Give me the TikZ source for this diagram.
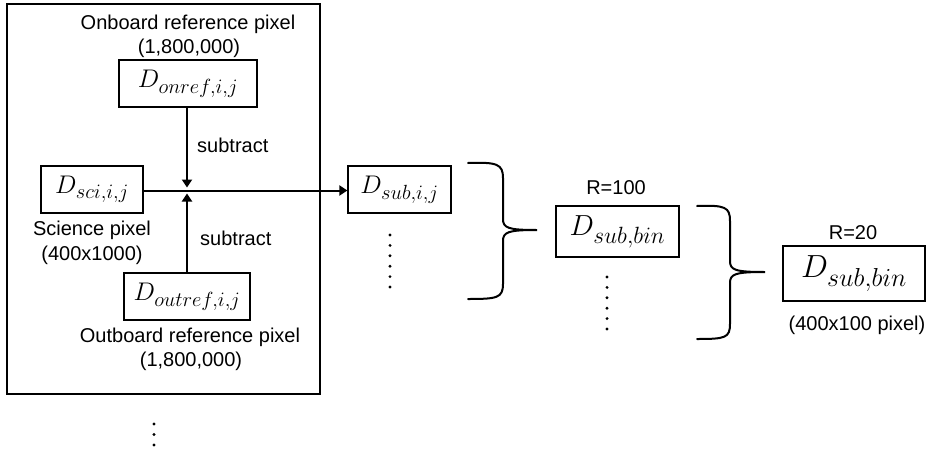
\documentclass[tikz,border=0pt]{standalone}
\usepackage{fontspec}
\setmainfont{Liberation Sans}
\usetikzlibrary{arrows.meta}
\DeclareFontFamily{OML}{cmm}{\skewchar\font'177}
\DeclareFontShape{OML}{cmm}{m}{it}{<->cmmi12}{}
\DeclareFontShape{OML}{cmm}{b}{it}{<->cmmib10}{}
\DeclareMathSizes{25.5}{25.5}{20.5}{15}
\DeclareMathSizes{29}{29}{23.5}{17}
\DeclareMathSizes{32}{32}{26}{19}
\begin{document}
\begin{tikzpicture}[x=1pt,y=-1pt,
  box/.style={draw,line width=1.3pt,inner sep=0pt,anchor=center},
  lbl/.style={font=\fontsize{20}{22}\selectfont,inner sep=0pt,anchor=center},
  conn/.style={line width=2pt,-{Triangle[length=8pt,width=10pt]}},
  brace/.style={line width=2pt,line cap=round},
  dotfill/.style={fill=black},
  mathA/.style={font=\fontsize{25.5}{30}\selectfont},
  mathB/.style={font=\fontsize{29}{34}\selectfont},
  mathC/.style={font=\fontsize{32}{38}\selectfont}]
\useasboundingbox (0,0) rectangle (931,453);
% outer frame
\node[box,minimum width=313pt,minimum height=390pt] (frame) at (163.5,199) {};
% boxes
\node[box,mathA,minimum width=138pt,minimum height=47pt] (onref) at (188,83.5) {$D_{onref,i,j}$};
\node[box,mathA,minimum width=102pt,minimum height=47pt] (sci) at (92,189.5) {$D_{sci,i,j}$};
\node[box,mathA,minimum width=126pt,minimum height=47pt] (outref) at (187,296.5) {$D_{outref,i,j}$};
\node[box,mathA,minimum width=103pt,minimum height=47pt] (sub) at (399.5,189.5) {$D_{sub,i,j}$};
\node[box,mathB,minimum width=123pt,minimum height=51pt] (bina) at (617.5,231.5) {$D_{sub,bin}$};
\node[box,mathC,minimum width=142pt,minimum height=55pt] (binb) at (854,273.5) {$D_{sub,bin}$};
% labels
\node[lbl] (onlab1) at (188,24) {Onboard reference pixel};
\node[lbl] (onlab2) at (189,48) {(1,800,000)};
\node[lbl,anchor=west] (sub1) at (197,145) {subtract};
\node[lbl,anchor=west] (sub2) at (200,238) {subtract};
\node[lbl] (scilab1) at (92,230) {Science pixel};
\node[lbl] (scilab2) at (92,255) {(400x1000)};
\node[lbl] (outlab1) at (190,337) {Outboard reference pixel};
\node[lbl] (outlab2) at (191,361) {(1,800,000)};
\node[lbl] (r100) at (616,188) {R=100};
\node[lbl] (r20) at (853,233) {R=20};
\node[lbl] (pixlab) at (857,325) {(400x100 pixel)};
% junction
\coordinate (jtop) at (187,187.5);
\coordinate (jbot) at (187,193.5);
\draw[conn] (sci.east |- 0,190.5) -- (sub.west |- 0,190.5);
\draw[conn] (onref.south -| jtop) -- (jtop);
\draw[conn] (outref.north -| jbot) -- (jbot);
% braces
\draw[brace] (468,163) .. controls (497,162) and (503,164) .. (503,178) -- (503,219)
  .. controls (503,228) and (508,230) .. (537,230)
  .. controls (508,230) and (503,232) .. (503,241) -- (503,284)
  .. controls (503,298) and (497,299) .. (468,299);
\draw[brace] (697,206) .. controls (725,205) and (730,207) .. (730,221) -- (730,261)
  .. controls (730,270) and (735,272) .. (765,272)
  .. controls (735,272) and (730,274) .. (730,283) -- (730,324)
  .. controls (730,338) and (725,339) .. (697,339);
% dots
\foreach \k in {0,...,5} {
  \fill[dotfill] (390,235+10.4*\k) circle (1.6);
  \fill[dotfill] (607,277+10.4*\k) circle (1.6);
}
\foreach \k in {0,1,2} {
  \fill[dotfill] (154,424+10.5*\k) circle (1.6);
}
\end{tikzpicture}
\end{document}
